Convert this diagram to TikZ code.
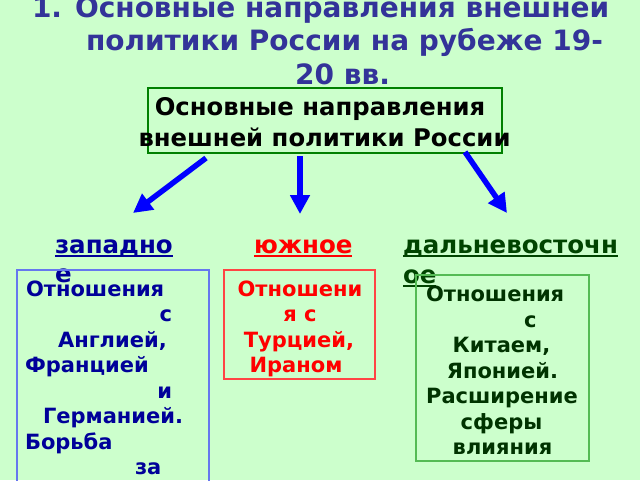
\documentclass[tikz,border=0pt]{standalone}
\usepackage{fontspec}
\setmainfont{DejaVu Sans}
\usetikzlibrary{arrows.meta}
\definecolor{bg}{HTML}{CCFFCC}
\definecolor{titlec}{HTML}{333399}
\definecolor{topborder}{HTML}{008000}
\definecolor{westc}{HTML}{000099}
\definecolor{westborder}{HTML}{6677EE}
\definecolor{southc}{HTML}{FF0000}
\definecolor{southborder}{HTML}{FF4444}
\definecolor{eastc}{HTML}{004400}
\definecolor{easttext}{HTML}{003300}
\definecolor{eastborder}{HTML}{55BB55}
\definecolor{arrowc}{HTML}{0000FF}
\begin{document}
\begin{tikzpicture}[x=1pt,y=-1pt,
  txt/.style={inner sep=0pt,outer sep=0pt,font=\bfseries},
  titletxt/.style={txt,anchor=base west,text=titlec,font=\fontsize{28}{32}\selectfont\bfseries},
  toptxt/.style={txt,anchor=base,text=black,font=\fontsize{24.3}{29}\selectfont\bfseries},
  dirtxt/.style={txt,anchor=base west,font=\fontsize{24.5}{29}\selectfont\bfseries},
  boxtxt/.style={txt,font=\fontsize{21}{25}\selectfont\bfseries},
  uline/.style={line width=1.8pt},
  bigarrow/.style={draw=arrowc,line width=5.5pt,-{Triangle[length=19pt,width=19pt]}}]
\useasboundingbox (0,0) rectangle (640,480);
\clip (0,0) rectangle (640,480);
\fill[bg] (0,0) rectangle (640,480);

% title
\node[titletxt] (t0) at (32,17) {1.};
\node[titletxt] (t1) at (75,17) {Основные направления внешней};
\node[titletxt] (t2) at (86,50) {политики России на рубеже 19-};
\node[titletxt,anchor=base] (t3) at (342.5,84) {20 вв.};

% top box
\node[draw=topborder,line width=1.4pt,minimum width=354pt,minimum height=65pt,inner sep=0pt] (top) at (325,120.5) {};
\node[toptxt] (top1) at (320,115) {Основные направления};
\node[toptxt] (top2) at (324.5,146) {внешней политики России};

% arrows
\coordinate (wa) at (206,158);
\coordinate (wb) at (133,213);
\coordinate (sa) at (300,156);
\coordinate (sb) at (300,214);
\coordinate (ea) at (465,152);
\coordinate (eb) at (507,213);
\draw[bigarrow] (wa) -- (wb);
\draw[bigarrow] (sa) -- (sb);
\draw[bigarrow] (ea) -- (eb);

% direction labels
\node[dirtxt,text=westc] (w1) at (55,253) {западно};
\node[dirtxt,text=westc] (w2) at (55,282) {е};
\draw[uline,westc] (w1.base west) ++(0,3) -- ++(118,0);
\node[dirtxt,text=southc] (s1) at (254,253) {южное};
\draw[uline,southc] (s1.base west) ++(0,3) -- ++(98,0);
\node[dirtxt,text=eastc] (e1) at (403,253) {дальневосточн};
\node[dirtxt,text=eastc] (e2) at (403,283) {ое};
\draw[uline,eastc] (e1.base west) ++(0,3) -- ++(215,0);
\draw[uline,eastc] (e2.base west) ++(0,3) -- ++(33,0);

% west box
\draw[westborder,line width=1.2pt] (17,490) -- (17,270) -- (209,270) -- (209,490);
\node[boxtxt,text=westc,anchor=base west] (wl1) at (26,296) {Отношения};
\node[boxtxt,text=westc,anchor=base east] (wl2) at (172,321.5) {с};
\node[boxtxt,text=westc,anchor=base west] (wl3) at (58,347) {Англией,};
\node[boxtxt,text=westc,anchor=base west] (wl4) at (25,372.5) {Францией};
\node[boxtxt,text=westc,anchor=base east] (wl5) at (172,398) {и};
\node[boxtxt,text=westc,anchor=base west] (wl6) at (43,423.5) {Германией.};
\node[boxtxt,text=westc,anchor=base west] (wl7) at (25,449) {Борьба};
\node[boxtxt,text=westc,anchor=base west] (wl8) at (135,474.5) {за};

% south box
\draw[southborder,line width=1.2pt] (224,270) rectangle (375,379);
\node[boxtxt,text=southc,anchor=base] (sl1) at (300,296) {Отношени};
\node[boxtxt,text=southc,anchor=base] (sl2) at (300,321.5) {я с};
\node[boxtxt,text=southc,anchor=base] (sl3) at (299,347) {Турцией,};
\node[boxtxt,text=southc,anchor=base] (sl4) at (296,372.5) {Ираном};

% east box
\draw[eastborder,line width=1.2pt] (416,275) rectangle (589,461);
\node[boxtxt,text=easttext,anchor=base west] (el1) at (426,301.5) {Отношения};
\node[boxtxt,text=easttext,anchor=base west] (el2) at (524,327) {с};
\node[boxtxt,text=easttext,anchor=base] (el3) at (501.5,352.5) {Китаем,};
\node[boxtxt,text=easttext,anchor=base] (el4) at (502.5,378) {Японией.};
\node[boxtxt,text=easttext,anchor=base] (el5) at (502,403.5) {Расширение};
\node[boxtxt,text=easttext,anchor=base] (el6) at (501.5,429) {сферы};
\node[boxtxt,text=easttext,anchor=base] (el7) at (502.5,454.5) {влияния};
\end{tikzpicture}
\end{document}
